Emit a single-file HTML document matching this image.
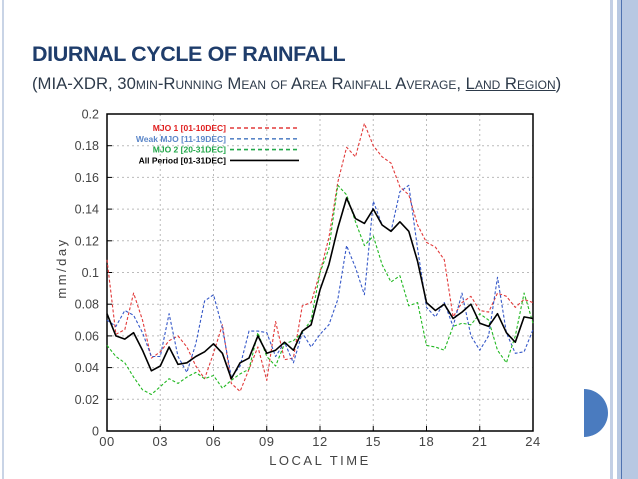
<!DOCTYPE html>
<html><head><meta charset="utf-8"><style>
body{margin:0;background:#fff;}
#wrap{position:relative;width:638px;height:479px;overflow:hidden;background:#fff;font-family:"Liberation Sans",sans-serif;}
#title{position:absolute;left:32px;top:42px;font-size:21.5px;font-weight:bold;color:#1f3d6b;letter-spacing:-0.4px;}
#sub{position:absolute;left:32px;top:74px;font-size:16.7px;color:#2d3a4a;font-variant:small-caps;letter-spacing:0px;white-space:nowrap;}
</style></head><body>
<div id="wrap">
<div style="position:absolute;left:2px;top:0;width:2px;height:479px;background:#c9d4e6"></div>
<div style="position:absolute;left:610px;top:0;width:3px;height:479px;background:#c3cfe5"></div>
<div style="position:absolute;left:617px;top:0;width:21px;height:479px;background:#b8c8e2"></div>
<div style="position:absolute;left:621px;top:0;width:1px;height:479px;background:#4f72b0"></div>
<div style="position:absolute;left:584px;top:389px;width:24px;height:48px;background:#4a7bbf;border-radius:0 24px 24px 0"></div>
<div id="title">DIURNAL CYCLE OF RAINFALL</div>
<div id="sub">(MIA-XDR, 30min-Running Mean of Area Rainfall Average, <u>Land Region</u>)</div>
<svg id="chart" width="638" height="479" style="position:absolute;left:0;top:0"></svg>
</div>
<script>
const hours=[0,0.5,1,1.5,2,2.5,3,3.5,4,4.5,5,5.5,6,6.5,7,7.5,8,8.5,9,9.5,10,10.5,11,11.5,12,12.5,13,13.5,14,14.5,15,15.5,16,16.5,17,17.5,18,18.5,19,19.5,20,20.5,21,21.5,22,22.5,23,23.5,24];
const mjo1=[0.108,0.061,0.064,0.087,0.070,0.046,0.050,0.057,0.060,0.053,0.041,0.033,0.049,0.067,0.030,0.025,0.039,0.053,0.032,0.069,0.045,0.046,0.079,0.081,0.100,0.122,0.157,0.179,0.173,0.194,0.180,0.173,0.169,0.154,0.149,0.130,0.119,0.116,0.108,0.072,0.081,0.085,0.076,0.075,0.087,0.085,0.078,0.083,0.081];
const weakMjo=[0.070,0.066,0.076,0.073,0.062,0.047,0.047,0.074,0.047,0.037,0.055,0.082,0.086,0.065,0.034,0.041,0.063,0.063,0.062,0.047,0.056,0.043,0.062,0.053,0.061,0.067,0.083,0.117,0.103,0.086,0.145,0.130,0.126,0.151,0.155,0.115,0.078,0.072,0.081,0.066,0.087,0.060,0.051,0.060,0.097,0.062,0.049,0.050,0.064];
const mjo2=[0.054,0.047,0.043,0.034,0.026,0.023,0.028,0.033,0.030,0.034,0.037,0.033,0.035,0.027,0.032,0.036,0.039,0.062,0.047,0.041,0.055,0.057,0.062,0.070,0.100,0.115,0.155,0.149,0.132,0.117,0.123,0.105,0.094,0.098,0.079,0.081,0.054,0.053,0.051,0.066,0.068,0.067,0.074,0.070,0.051,0.043,0.060,0.087,0.068];
const allPeriod=[0.074,0.060,0.058,0.062,0.051,0.038,0.041,0.053,0.042,0.043,0.047,0.050,0.055,0.049,0.033,0.043,0.046,0.060,0.049,0.051,0.056,0.051,0.063,0.067,0.089,0.105,0.128,0.147,0.134,0.131,0.140,0.130,0.126,0.132,0.126,0.107,0.081,0.076,0.080,0.071,0.075,0.080,0.068,0.066,0.074,0.062,0.056,0.072,0.071];
const yTicks=[0,0.02,0.04,0.06,0.08,0.1,0.12,0.14,0.16,0.18,0.2];
const yTickLabels=["0","0.02","0.04","0.06","0.08","0.1","0.12","0.14","0.16","0.18","0.2"];
const xTicks=[0,3,6,9,12,15,18,21,24];
const xTickLabels=["00","03","06","09","12","15","18","21","24"];
const legendLabels=["MJO 1 [01-10DEC]","Weak MJO [11-19DEC]","MJO 2 [20-31DEC]","All Period [01-31DEC]"];

const L=107,R=533,T=114,B=431;
const xs=h=>L+(R-L)*h/24;
const ys=v=>B-(B-T)*v/0.2;
const svg=document.getElementById('chart');
const NS='http://www.w3.org/2000/svg';
function mk(tag,attrs){const e=document.createElementNS(NS,tag);for(const k in attrs)e.setAttribute(k,attrs[k]);svg.appendChild(e);return e;}

yTicks.forEach((v,i)=>{
  if(v>0&&v<0.2){const g=mk('line',{x1:L,x2:R,y1:ys(v),y2:ys(v),stroke:'#bbb','stroke-width':1,'stroke-dasharray':'2,3'});
  
  }
  const tk=mk('line',{x1:L,x2:L+5,y1:ys(v),y2:ys(v),stroke:'#000'});
  
  
  const t=mk('text',{x:99,y:ys(v)+4.5,'text-anchor':'end','font-size':12.5,fill:'#444','font-family':'Liberation Sans, sans-serif'});
  t.textContent=yTickLabels[i];
  
  
});
xTicks.forEach((h,i)=>{
  if(h>0&&h<24){const g=mk('line',{x1:xs(h),x2:xs(h),y1:T,y2:B,stroke:'#bbb','stroke-width':1,'stroke-dasharray':'2,3'});
  
  }
  const tk=mk('line',{x1:xs(h),x2:xs(h),y1:B,y2:B-5,stroke:'#000'});
  
  
  const t=mk('text',{x:xs(h),y:446,'text-anchor':'middle','font-size':13,fill:'#444','font-family':'Liberation Sans, sans-serif','letter-spacing':'0.5'});
  t.textContent=xTickLabels[i];
  
  
});
const frame=mk('rect',{x:L,y:T,width:R-L,height:B-T,fill:'none',stroke:'#000','stroke-width':1.5});



const xt=mk('text',{x:(L+R)/2,y:465,'text-anchor':'middle','font-size':13,fill:'#444','letter-spacing':'2.5','font-family':'Liberation Sans, sans-serif'});
xt.textContent='LOCAL TIME';


const yt=mk('text',{x:0,y:0,'text-anchor':'middle','font-size':13,fill:'#444','letter-spacing':'2.5','font-family':'Liberation Sans, sans-serif',transform:'translate(66,268) rotate(-90)'});
yt.textContent='mm/day';



const series=[
 {d:mjo1,c:'#e23a3a',dash:'3,2',w:1.1,n:'series-mjo1'},
 {d:weakMjo,c:'#3558c8',dash:'3,2',w:1.1,n:'series-weak-mjo'},
 {d:mjo2,c:'#22b822',dash:'3,2',w:1.1,n:'series-mjo2'},
 {d:allPeriod,c:'#000',dash:'',w:1.6,n:'series-all-period'}
];
series.forEach(s=>{
  const pts=hours.map((h,i)=>xs(h).toFixed(1)+','+ys(s.d[i]).toFixed(1)).join(' ');
  const p=mk('polyline',{points:pts,fill:'none',stroke:s.c,'stroke-width':s.w,'stroke-dasharray':s.dash,'stroke-linejoin':'round'});
  
  
});
const legColors=['#e23a3a','#5b86c8','#22a84a','#000'];
const legText=['#e02020','#5b86c8','#22a84a','#000'];
legendLabels.forEach((lab,i)=>{
  const y=128+i*10.8;
  const t=mk('text',{x:226,y:y+3,'text-anchor':'end','font-size':8.5,'font-weight':'bold',fill:legText[i],'font-family':'Liberation Sans, sans-serif'});
  t.textContent=lab;
  
  
  const l=mk('line',{x1:230,x2:299,y1:y,y2:y,stroke:legColors[i],'stroke-width':1.6,'stroke-dasharray':i==3?'':'4,3'});
  
  
});
</script>
</body></html>
